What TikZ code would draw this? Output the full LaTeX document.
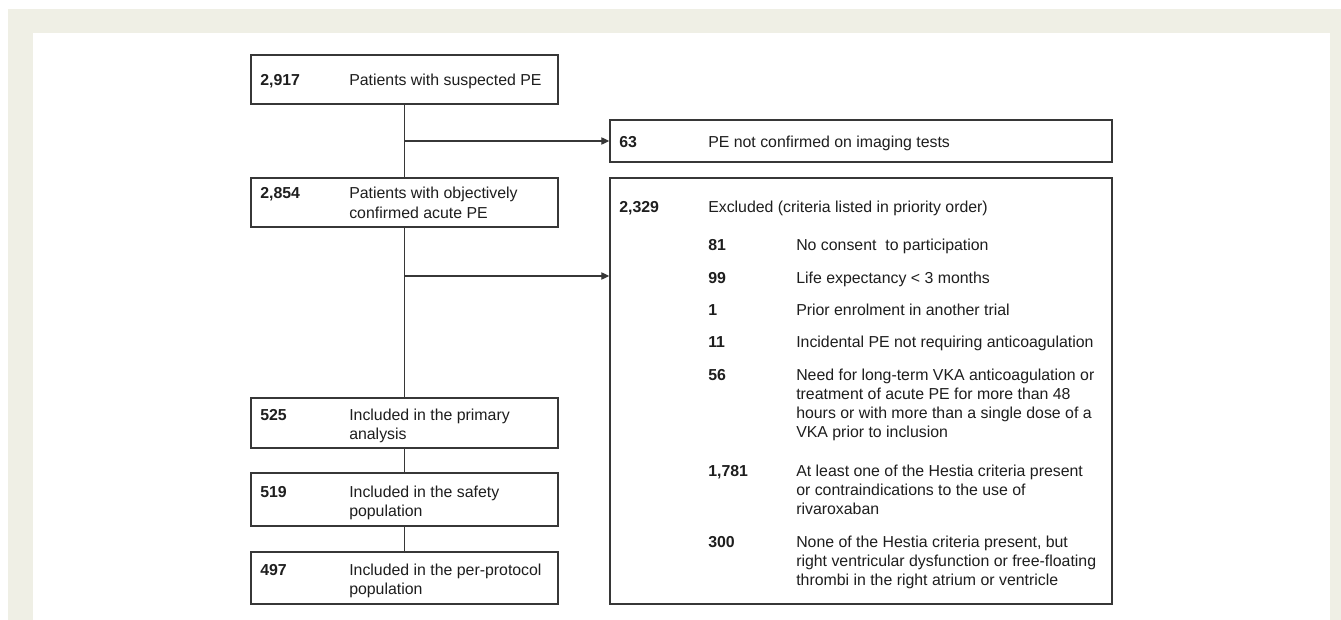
\documentclass[tikz,border=0pt]{standalone}
\usepackage{fontspec}
\setmainfont{Liberation Sans}
\usetikzlibrary{arrows.meta}
\definecolor{framebg}{RGB}{239,239,229}
\definecolor{linegray}{RGB}{55,55,55}
\definecolor{textgray}{RGB}{30,30,30}
\newcommand\fcsize{\fontsize{11.9pt}{14.4pt}\selectfont}
\newcommand\mlines[1]{\parbox[t]{250pt}{#1}}
\begin{document}
\begin{tikzpicture}[x=0.75pt,y=-0.75pt,
  boxnode/.style={draw=linegray, line width=1.1pt, rectangle, inner sep=0pt},
  num/.style={anchor=base west, inner sep=0pt, text=textgray, font=\fcsize\bfseries},
  txt/.style={anchor=base west, inner sep=0pt, text=textgray, font=\fcsize},
  conn/.style={draw=linegray, line width=0.9pt},
  arr/.style={conn, -{Triangle[length=6pt,width=5.5pt]}}]
\useasboundingbox (0,0) rectangle (1341,620);
\fill[white] (0,0) rectangle (1341,620);
\fill[framebg] (8,9) rectangle (1341,620);
\fill[white] (33,33) rectangle (1330,620);

% boxes
\node[boxnode, minimum width=307*0.75pt, minimum height=49*0.75pt] (A) at (404.5,79.5) {};
\node[boxnode, minimum width=502*0.75pt, minimum height=42*0.75pt] (B) at (861,141) {};
\node[boxnode, minimum width=307*0.75pt, minimum height=49*0.75pt] (C) at (404.5,202.5) {};
\node[boxnode, minimum width=502*0.75pt, minimum height=426*0.75pt] (D) at (861,391) {};
\node[boxnode, minimum width=307*0.75pt, minimum height=50*0.75pt] (E) at (404.5,423) {};
\node[boxnode, minimum width=307*0.75pt, minimum height=53*0.75pt] (F) at (404.5,499.5) {};
\node[boxnode, minimum width=307*0.75pt, minimum height=52*0.75pt] (G) at (404.5,578) {};

% texts
\node[num] (An) at (260,86) {2,917};
\node[txt] (At) at (349,86) {Patients with suspected PE};
\node[num] (Bn) at (619,148) {63};
\node[txt] (Bt) at (708,148) {PE not confirmed on imaging tests};
\node[num] (Cn) at (260,199) {2,854};
\node[txt] (Ct) at (349,199) {\mlines{Patients with objectively\\confirmed acute PE}};
\node[num] (Dn) at (619,213) {2,329};
\node[txt] (Dt) at (708,213) {Excluded (criteria listed in priority order)};
\node[num] (D1n) at (708,251) {81};
\node[txt] (D1t) at (796,251) {No consent\ \ to participation};
\node[num] (D2n) at (708,283) {99};
\node[txt] (D2t) at (796,283) {Life expectancy < 3 months};
\node[num] (D3n) at (708,315) {1};
\node[txt] (D3t) at (796,315) {Prior enrolment in another trial};
\node[num] (D4n) at (708,347) {11};
\node[txt] (D4t) at (796,347) {Incidental PE not requiring anticoagulation};
\node[num] (D5n) at (708,380) {56};
\node[txt] (D5t) at (796,380) {\mlines{Need for long-term VKA anticoagulation or\\treatment of acute PE for more than 48\\hours or with more than a single dose of a\\VKA prior to inclusion}};
\node[num] (D6n) at (708,476) {1,781};
\node[txt] (D6t) at (796,476) {\mlines{At least one of the Hestia criteria present\\or contraindications to the use of\\rivaroxaban}};
\node[num] (D7n) at (708,547) {300};
\node[txt] (D7t) at (796,547) {\mlines{None of the Hestia criteria present, but\\right ventricular dysfunction or free-floating\\thrombi in the right atrium or ventricle}};
\node[num] (En) at (260,420) {525};
\node[txt] (Et) at (349,420) {\mlines{Included in the primary\\analysis}};
\node[num] (Fn) at (260,497) {519};
\node[txt] (Ft) at (349,497) {\mlines{Included in the safety\\population}};
\node[num] (Gn) at (260,575) {497};
\node[txt] (Gt) at (349,575) {\mlines{Included in the per-protocol\\population}};

% connectors
\coordinate (j2) at (404.5,276);
\draw[conn] (A.south) -- (C.north);
\draw[arr] (A.south |- B.west) -- (B.west);
\draw[conn] (C.south) -- (E.north);
\draw[arr] (j2) -- (j2 -| D.west);
\draw[conn] (E.south) -- (F.north);
\draw[conn] (F.south) -- (G.north);
\end{tikzpicture}
\end{document}
